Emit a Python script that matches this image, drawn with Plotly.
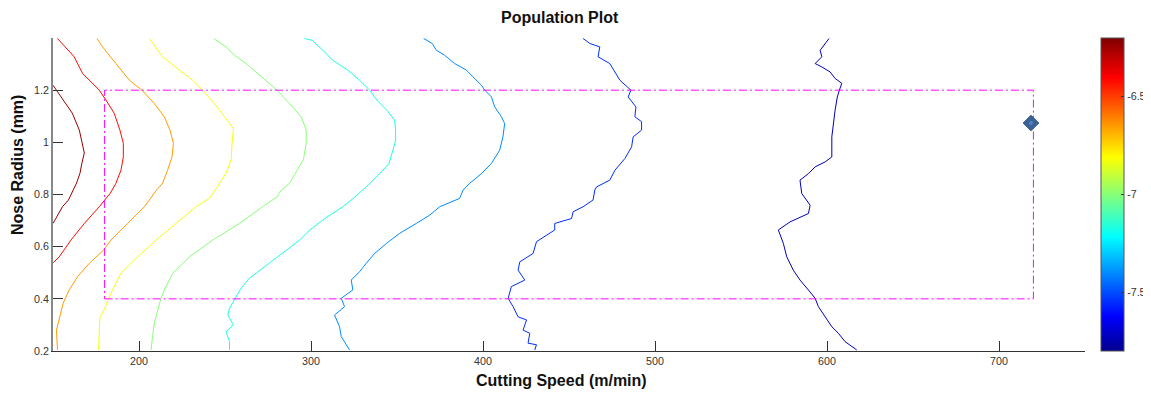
import plotly.graph_objects as go
from plotly.colors import sample_colorscale

# ---------------- data ----------------
levels = [-6.24, -6.42, -6.65, -6.825, -7.0, -7.175, -7.4, -7.55, -7.74]
c_min, c_max = -7.8, -6.2

c1_speed = [150.0, 152.0, 155.5, 161.2, 165.3, 167.2, 168.2, 166.8, 165.7, 163.7, 161.0, 159.0, 155.5, 150.1]
c1_radius = [1.219, 1.200, 1.162, 1.112, 1.047, 0.997, 0.959, 0.920, 0.882, 0.844, 0.805, 0.779, 0.753, 0.690]

c2_speed = [152.6, 162.3, 167.2, 176.9, 180.8, 185.6, 188.9, 190.9, 190.9, 189.5, 186.6, 183.3, 176.9, 168.2, 160.4, 153.6, 150.1]
c2_radius = [1.398, 1.328, 1.264, 1.200, 1.162, 1.111, 1.047, 0.996, 0.944, 0.893, 0.843, 0.805, 0.753, 0.689, 0.625, 0.561, 0.538]

c3_speed = [175.6, 178.8, 186.6, 194.4, 201.7, 208.9, 214.7, 218.0, 220.0, 219.2, 216.6, 213.7, 210.2, 203.1,
            193.4, 183.7, 179.4, 171.1, 164.3, 159.4, 155.9, 154.0, 152.0, 152.6]
c3_radius = [1.398, 1.366, 1.302, 1.238, 1.200, 1.149, 1.098, 1.047, 0.996, 0.944, 0.893, 0.843, 0.817, 0.753,
             0.689, 0.625, 0.587, 0.536, 0.485, 0.434, 0.383, 0.331, 0.280, 0.204]

c4_speed = [206.0, 209.5, 213.7, 223.5, 231.2, 237.0, 243.8, 249.7, 254.9, 254.1, 253.6, 250.6, 245.8, 240.9,
            233.2, 221.5, 209.9, 199.2, 189.5, 184.6, 182.3, 179.8, 177.3, 176.9, 176.5]
c4_radius = [1.398, 1.366, 1.328, 1.277, 1.238, 1.200, 1.149, 1.098, 1.053, 0.996, 0.934, 0.882, 0.831, 0.785,
             0.753, 0.689, 0.625, 0.561, 0.498, 0.434, 0.402, 0.358, 0.331, 0.280, 0.204]

c5_speed = [243.4, 250.6, 255.5, 262.3, 269.0, 275.8, 280.3, 287.5, 294.3, 297.2, 297.2, 295.6, 292.3, 287.5,
            282.7, 280.3, 271.9, 258.4, 242.8, 229.3, 219.6, 214.7, 212.8, 210.8, 208.9, 207.9, 207.0]
c5_radius = [1.398, 1.366, 1.334, 1.302, 1.264, 1.226, 1.200, 1.149, 1.098, 1.047, 0.996, 0.934, 0.896, 0.843,
             0.817, 0.791, 0.753, 0.689, 0.625, 0.561, 0.498, 0.434, 0.402, 0.358, 0.307, 0.256, 0.204]

c6_speed = [296.2, 300.7, 306.9, 312.7, 321.4, 328.2, 334.1, 338.3, 344.1, 348.6, 349.2, 349.2, 347.6, 345.3,
            339.9, 333.1, 324.3, 318.5, 308.5, 299.5, 293.3, 281.7, 264.2, 259.4, 256.5, 252.6, 251.6, 254.9,
            250.6, 252.6, 252.6]
c6_radius = [1.398, 1.391, 1.353, 1.314, 1.277, 1.238, 1.200, 1.162, 1.123, 1.085, 1.047, 1.008, 0.969, 0.918,
             0.880, 0.835, 0.784, 0.753, 0.710, 0.665, 0.625, 0.567, 0.479, 0.441, 0.408, 0.364, 0.338, 0.300,
             0.274, 0.236, 0.204]

c7_speed = [365.5, 370.5, 372.9, 377.7, 383.5, 390.3, 394.2, 399.1, 401.0, 404.9, 406.8, 410.7, 412.6, 411.6,
            409.7, 404.9, 399.1, 392.3, 388.4, 386.4, 374.8, 369.0, 361.2, 351.5, 343.8, 337.0, 332.1, 328.2,
            323.4, 324.3, 317.6, 319.5, 313.7, 316.6, 317.6, 322.4]
c7_radius = [1.398, 1.379, 1.353, 1.334, 1.302, 1.277, 1.251, 1.219, 1.200, 1.174, 1.136, 1.098, 1.072, 1.021,
             0.970, 0.919, 0.880, 0.843, 0.817, 0.785, 0.753, 0.721, 0.689, 0.651, 0.612, 0.574, 0.536, 0.504,
             0.472, 0.434, 0.402, 0.370, 0.338, 0.293, 0.255, 0.204]

c8_speed = [458.2, 462.1, 467.9, 466.9, 473.7, 476.7, 479.6, 486.0, 484.4, 488.9, 488.3, 492.2, 492.2, 487.3,
            486.4, 482.5, 476.7, 473.7, 466.0, 465.0, 464.0, 458.2, 452.4, 451.5, 441.7, 441.7, 431.1, 429.1,
            421.4, 420.4, 424.3, 416.5, 414.6, 417.5, 420.4, 425.3, 423.3, 427.2, 426.2, 431.1, 430.1]
c8_radius = [1.398, 1.379, 1.366, 1.328, 1.302, 1.270, 1.238, 1.200, 1.174, 1.136, 1.098, 1.079, 1.047, 1.021,
             0.983, 0.938, 0.893, 0.855, 0.829, 0.817, 0.779, 0.753, 0.734, 0.708, 0.689, 0.664, 0.619, 0.574,
             0.542, 0.510, 0.472, 0.447, 0.402, 0.370, 0.331, 0.319, 0.280, 0.268, 0.230, 0.224, 0.204]

c9_speed = [601.2, 596.0, 597.0, 593.1, 597.0, 601.8, 604.7, 608.6, 607.2, 606.0, 604.7, 603.7, 602.8, 602.8,
            598.9, 593.1, 589.2, 584.3, 585.3, 590.2, 589.2, 578.5, 571.7, 574.6, 576.6, 580.4, 584.3, 589.2,
            593.1, 595.0, 598.9, 602.8, 606.6, 610.5, 617.3]
c9_radius = [1.398, 1.353, 1.328, 1.302, 1.289, 1.270, 1.245, 1.226, 1.200, 1.174, 1.123, 1.072, 1.021, 0.944,
             0.925, 0.906, 0.880, 0.855, 0.804, 0.759, 0.727, 0.695, 0.664, 0.613, 0.561, 0.510, 0.472, 0.434,
             0.402, 0.370, 0.331, 0.293, 0.268, 0.236, 0.204]

bounds_speed = [180, 720, 720, 180, 180]
bounds_radius = [0.4, 0.4, 1.2, 1.2, 0.4]

best_speed = [718.6]
best_radius = [1.074]

x_ticks = [200, 300, 400, 500, 600, 700]
y_ticks = [0.2, 0.4, 0.6, 0.8, 1.0, 1.2]
y_tick_text = ["0.2", "0.4", "0.6", "0.8", "1", "1.2"]
cb_ticks = [-7.5, -7.0, -6.5]
cb_tick_text = ["-7.5", "-7", "-6.5"]

# ---------------- figure ----------------
jet = [[0.0, "rgb(0,0,143)"], [0.111, "rgb(0,0,255)"], [0.365, "rgb(0,255,255)"],
       [0.619, "rgb(255,255,0)"], [0.873, "rgb(255,0,0)"], [1.0, "rgb(128,0,0)"]]

contours = [(c1_speed, c1_radius), (c2_speed, c2_radius), (c3_speed, c3_radius),
            (c4_speed, c4_radius), (c5_speed, c5_radius), (c6_speed, c6_radius),
            (c7_speed, c7_radius), (c8_speed, c8_radius), (c9_speed, c9_radius)]

FONT = "Liberation Sans, Arial, Helvetica, sans-serif"
fig = go.Figure()

for lvl, (xs, ys) in zip(levels, contours):
    frac = (lvl - c_min) / (c_max - c_min)
    col = sample_colorscale(jet, [frac])[0]
    fig.add_trace(go.Scatter(x=xs, y=ys, mode="lines", line=dict(color=col, width=1),
                             name=str(lvl), showlegend=False, hoverinfo="skip"))

# colour bar carrier
fig.add_trace(go.Scatter(
    x=[None] * len(levels), y=[None] * len(levels), mode="markers", showlegend=False,
    hoverinfo="skip",
    marker=dict(color=levels, cmin=c_min, cmax=c_max, colorscale=jet, showscale=True,
                colorbar=dict(thickness=23, thicknessmode="pixels", len=1, lenmode="fraction",
                              x=1.0155, xanchor="left", y=0.5, yanchor="middle", xpad=0, ypad=0,
                              outlinewidth=1, outlinecolor="#555",
                              tickvals=cb_ticks, ticktext=cb_tick_text, ticks="inside",
                              ticklen=3, tickcolor="#333",
                              tickfont=dict(family=FONT, size=10.7, color="#333")))))

fig.add_trace(go.Scatter(x=bounds_speed, y=bounds_radius, mode="lines",
                         line=dict(color="#ff00ff", width=1, dash="8px,3px,2px,3px"),
                         showlegend=False, hoverinfo="skip"))

fig.add_trace(go.Scatter(x=best_speed, y=best_radius, mode="markers", showlegend=False,
                         marker=dict(symbol="diamond", size=12, color="#3b6295",
                                     line=dict(color="#30578a", width=1))))
fig.add_trace(go.Scatter(x=best_speed, y=best_radius, mode="markers", showlegend=False,
                         hoverinfo="skip",
                         marker=dict(symbol="circle", size=4, color="#4f84c2")))

# The page body keeps its default 8px margin, so the figure is sized to fit inside it.
fig.update_layout(
    width=1143, height=388,
    margin=dict(l=45, r=66, t=30, b=45, autoexpand=False),
    plot_bgcolor="white", paper_bgcolor="white",
    font=dict(family=FONT, color="#333"),
    showlegend=False,
    xaxis=dict(range=[150, 750], tickvals=x_ticks, ticks="inside", ticklen=10, tickcolor="#333",
               showline=True, linecolor="#333", linewidth=1, showgrid=False, zeroline=False,
               tickfont=dict(family=FONT, size=10.7, color="#333")),
    yaxis=dict(range=[0.2, 1.4], tickvals=y_ticks, ticktext=y_tick_text, ticks="inside",
               ticklen=10, tickcolor="#333", showline=True, linecolor="#888", linewidth=2,
               showgrid=False, zeroline=False,
               tickfont=dict(family=FONT, size=10.7, color="#333")),
    annotations=[
        dict(text="<b>Population Plot</b>", xref="paper", yref="paper", x=0.4913, y=1.0639,
             xanchor="center", yanchor="middle", showarrow=False,
             font=dict(family=FONT, size=16, color="#111")),
        dict(text="<b>Cutting Speed (m/min)</b>", xref="paper", yref="paper", x=0.4929, y=-0.0958,
             xanchor="center", yanchor="middle", showarrow=False,
             font=dict(family=FONT, size=16, color="#111")),
        dict(text="<b>Nose Radius (mm)</b>", xref="paper", yref="paper", x=-0.0349, y=0.594,
             xanchor="center", yanchor="middle", showarrow=False, textangle=-90,
             font=dict(family=FONT, size=16, color="#111")),
    ],
)

fig.write_html("out.html")
